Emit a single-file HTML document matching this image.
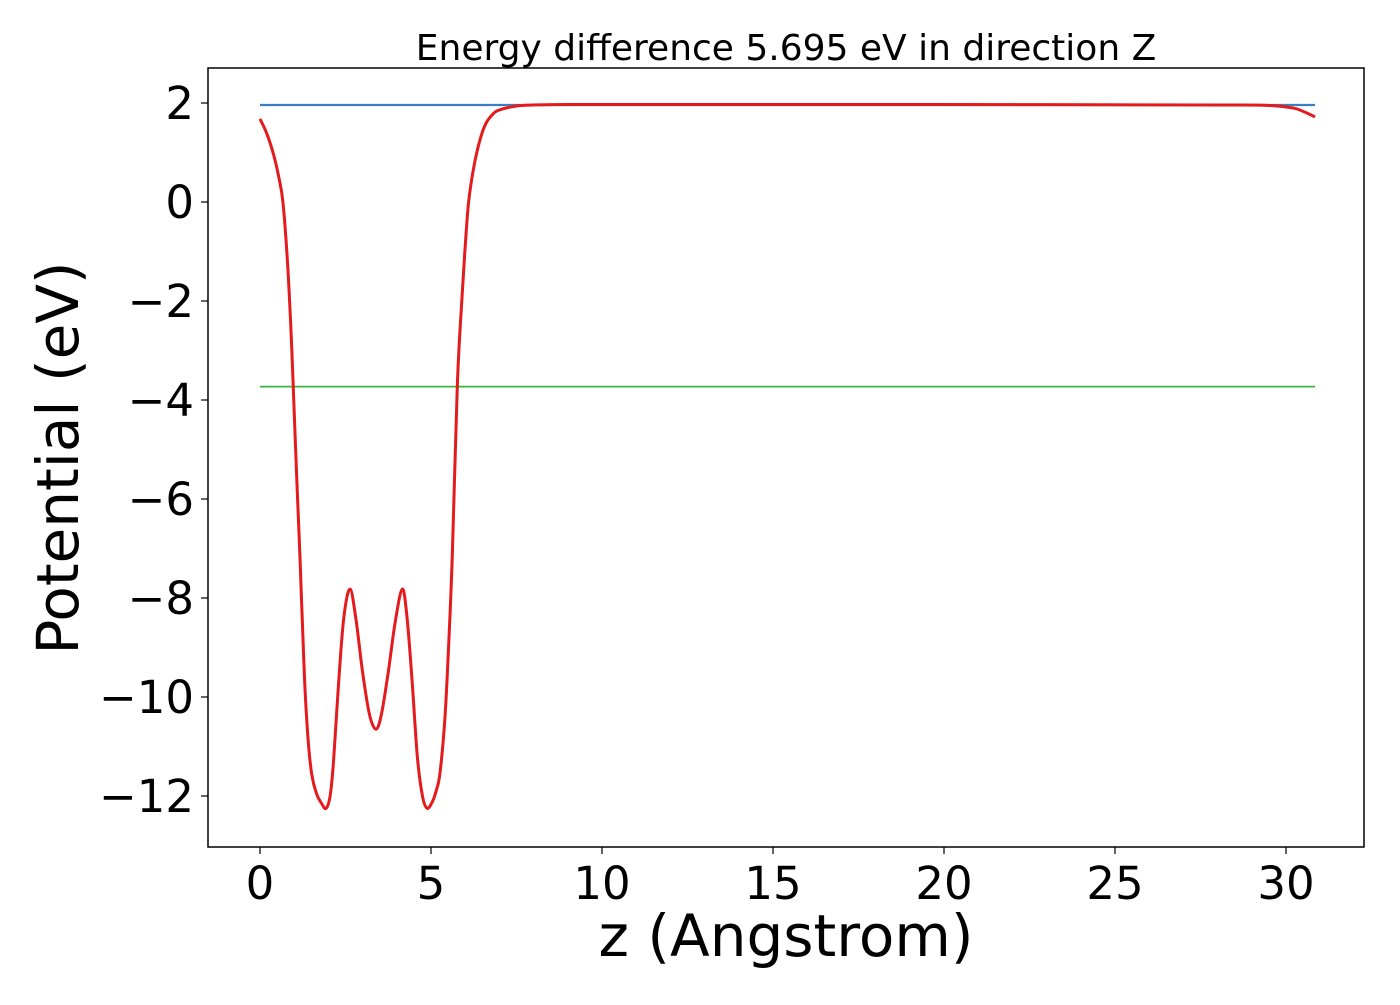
<!DOCTYPE html>
<html><head><meta charset="utf-8"><style>
html,body{margin:0;padding:0;background:#fff;}
svg text{font-family:"DejaVu Sans","Liberation Sans",sans-serif;fill:#000;}
</style></head><body>
<svg width="1400" height="1000" viewBox="0 0 1400 1000" xmlns="http://www.w3.org/2000/svg">
<rect width="1400" height="1000" fill="#fff"/>
<g id="plot"></g>
<text x="786" y="60" font-size="36" text-anchor="middle">Energy difference 5.695 eV in direction Z</text>
<text x="786" y="956" font-size="58" text-anchor="middle">z (Angstrom)</text>
<text transform="translate(78,458) rotate(-90)" font-size="58" text-anchor="middle">Potential (eV)</text>
</svg>
<script>
const xTicks=[0,5,10,15,20,25,30];
const yTicks=[2,0,-2,-4,-6,-8,-10,-12];
const vacuumLevel=1.96;
const fermiLevel=-3.73;
const lineStart=0, lineEnd=30.85;
const zVals=[0,0.2,0.4,0.55,0.67,0.8,0.9,0.97,1.07,1.17,1.3,1.4,1.51,1.65,1.8,1.93,2.05,2.15,2.3,2.45,2.63,2.8,3.0,3.2,3.39,3.55,3.75,3.95,4.16,4.3,4.45,4.6,4.75,4.89,5.05,5.15,5.26,5.4,5.5,5.62,5.77,5.9,6.0,6.1,6.25,6.43,6.6,6.8,7.0,7.5,8,9,12,20,28,29.5,30.2,30.5,30.85];
const vVals=[1.68,1.38,0.95,0.5,0,-1.17,-2.5,-3.7,-5.5,-7.2,-9.6,-10.8,-11.55,-11.95,-12.15,-12.25,-12.0,-11.3,-9.7,-8.4,-7.82,-8.4,-9.5,-10.35,-10.65,-10.35,-9.5,-8.5,-7.82,-8.4,-9.7,-11.2,-12.0,-12.25,-12.1,-11.9,-11.55,-10.5,-9.2,-7.2,-3.7,-2.0,-0.9,0,0.7,1.25,1.58,1.77,1.86,1.94,1.96,1.97,1.97,1.97,1.96,1.95,1.9,1.83,1.72];
const L=208,R=1364,T=68,B=847;
const X=z=>260+z*(1286-260)/30;
const Y=v=>202-v*(202-103)/2;
const NS="http://www.w3.org/2000/svg";
const g=document.getElementById('plot');
function mk(tag,attrs){const e=document.createElementNS(NS,tag);for(const k in attrs)e.setAttribute(k,attrs[k]);g.appendChild(e);return e;}
let bl=mk('line',{x1:X(lineStart),x2:X(lineEnd),y1:Y(vacuumLevel),y2:Y(vacuumLevel),stroke:'#3a7fc1','stroke-width':2.2});


let gl=mk('line',{x1:X(lineStart),x2:X(lineEnd),y1:Y(fermiLevel),y2:Y(fermiLevel),stroke:'#3cb33c','stroke-width':1.8});


const P=zVals.map((z,i)=>[X(z),Y(vVals[i])]);
let d='M'+P[0][0]+','+P[0][1];
for(let i=0;i<P.length-1;i++){const p0=P[Math.max(0,i-1)],p1=P[i],p2=P[i+1],p3=P[Math.min(P.length-1,i+2)];
const c1=[p1[0]+(p2[0]-p0[0])/6,p1[1]+(p2[1]-p0[1])/6],c2=[p2[0]-(p3[0]-p1[0])/6,p2[1]-(p3[1]-p1[1])/6];
d+=` C${c1[0]},${c1[1]} ${c2[0]},${c2[1]} ${p2[0]},${p2[1]}`;}
let rc=mk('path',{d:d,fill:'none',stroke:'#e41a1c','stroke-width':3,'stroke-linejoin':'round'});


let fr=mk('rect',{x:L,y:T,width:R-L,height:B-T,fill:'none',stroke:'#000','stroke-width':1.5});


xTicks.forEach(t=>{mk('line',{x1:X(t),x2:X(t),y1:B,y2:B+7,stroke:'#000','stroke-width':1.2});
const tx=mk('text',{x:X(t),y:B+52,'font-size':45,'text-anchor':'middle'});tx.textContent=t;

});
yTicks.forEach(t=>{mk('line',{x1:L-7,x2:L,y1:Y(t),y2:Y(t),stroke:'#000','stroke-width':1.2});
const tx=mk('text',{x:L-14,y:Y(t)+16,'font-size':45,'text-anchor':'end'});tx.textContent=t<0?'\u2212'+(-t):t;

});
</script>
</body></html>
